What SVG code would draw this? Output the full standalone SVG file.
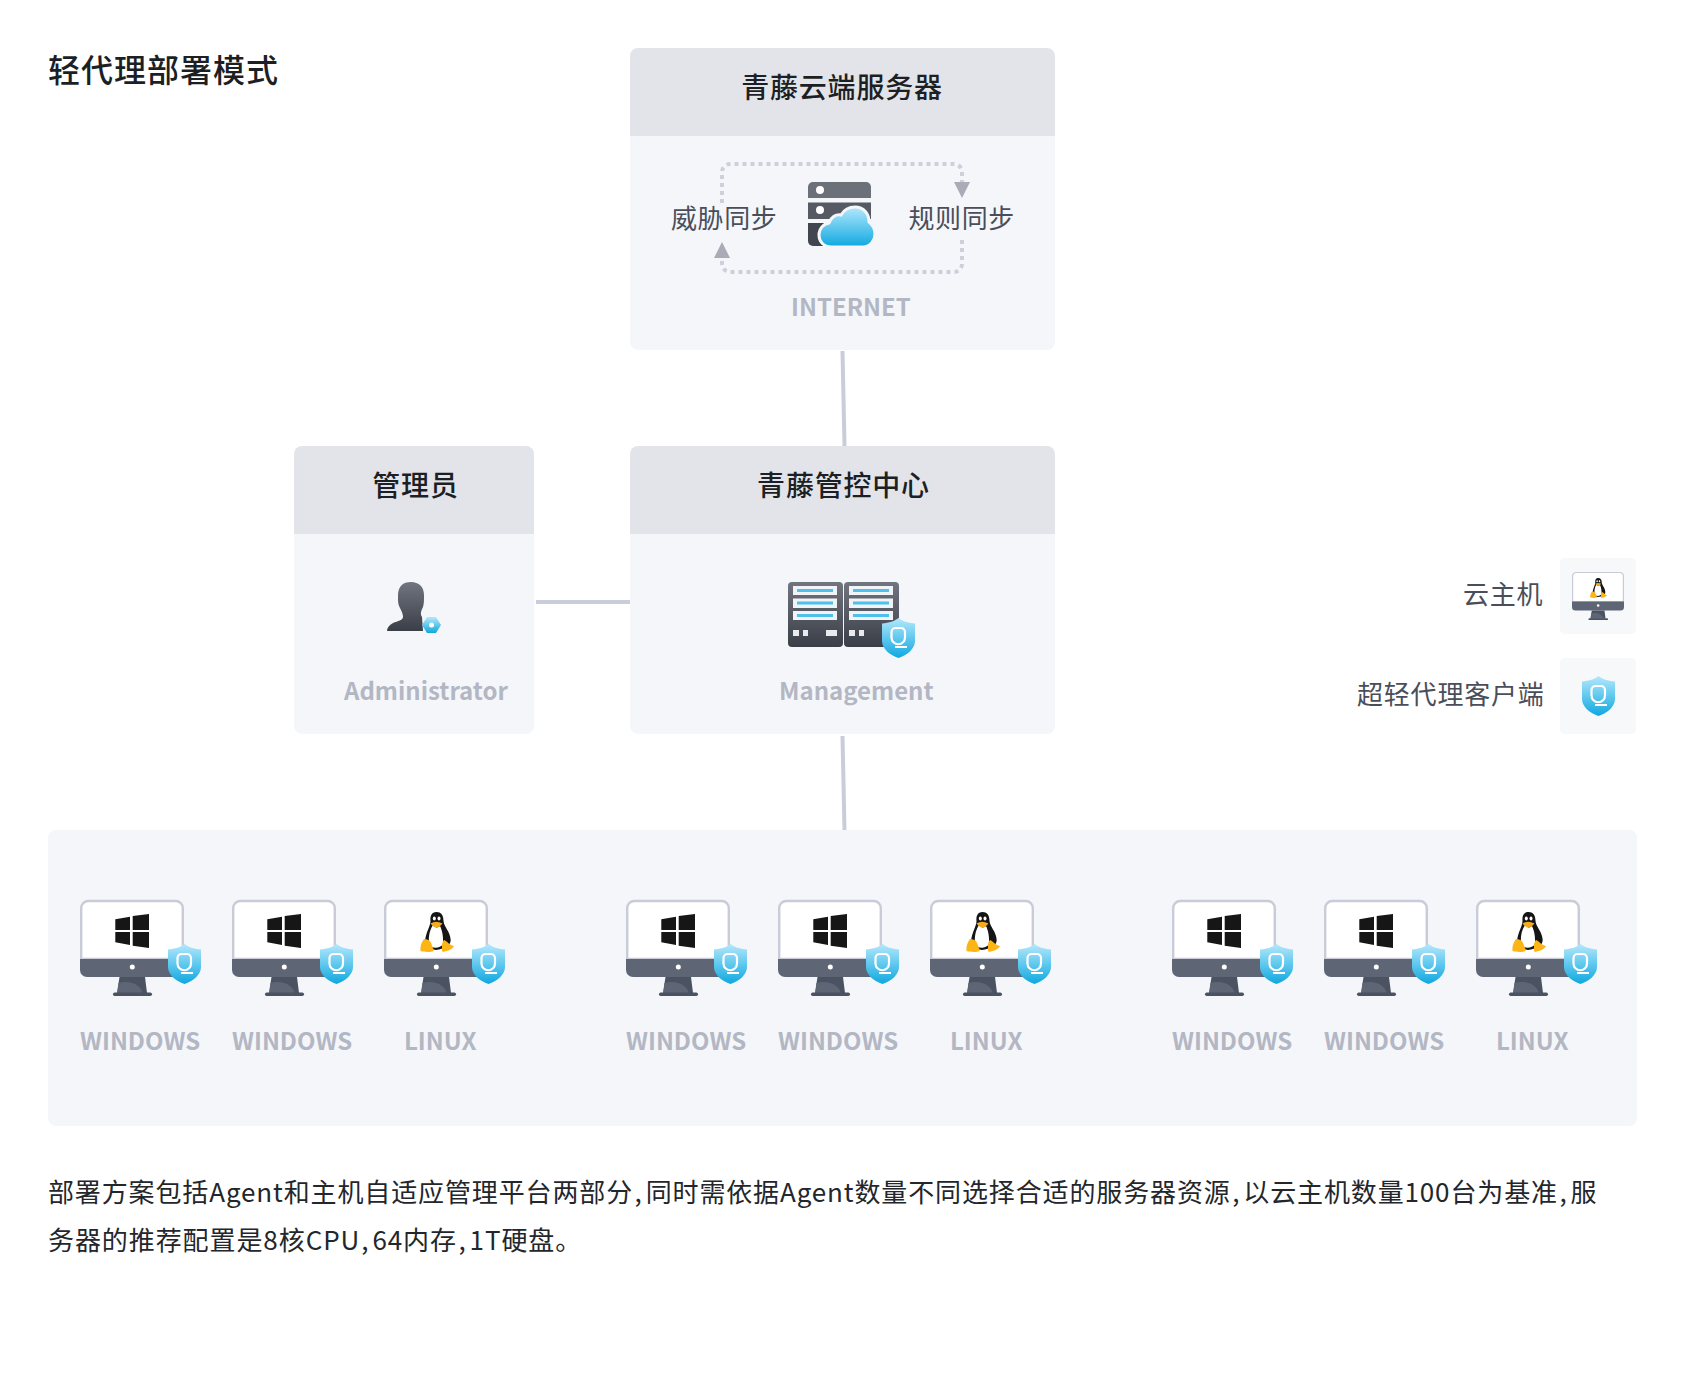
<svg xmlns="http://www.w3.org/2000/svg" width="1685" height="1389" viewBox="0 0 1685 1389">
<style>
text{font-family:"Noto Sans CJK SC","Noto Sans",sans-serif}
.body{fill:#f4f6fa}
.head{fill:#e3e4e9}
.title{font-size:28px;font-weight:500;fill:#1c1f24;text-anchor:middle;letter-spacing:.8px}
.cap{font-size:24px;font-weight:700;fill:#b3b7c3}
.lab{font-size:26px;fill:#4a4e5a}
.para{font-size:26px;fill:#23262b;letter-spacing:.92px}
.conn{stroke:#c9cdd9;stroke-width:4;fill:none}
.dot{stroke:#cdd0da;stroke-width:4;fill:none;stroke-dasharray:4 4}
.arr{fill:#a9acb7}
.slot{fill:#f1f3f6}
.bar{fill:#4fc0ec}
.sq{fill:#e8eaee}
</style>
<defs>
<linearGradient id="sg" x1="0" y1="0" x2="0" y2="1"><stop offset="0" stop-color="#b4e8fc"/><stop offset="1" stop-color="#0ea8e0"/></linearGradient>
<linearGradient id="dg" x1="0" y1="0" x2="0" y2="1"><stop offset="0" stop-color="#70757f"/><stop offset="1" stop-color="#393e47"/></linearGradient>
<g id="shield">
<path d="M16.5 0C20 3 26 5 33 5.500V23C33 31 25 37 16.500 40C8 37 0 31 0 23V5.500C7 5 13 3 16.500 0Z" fill="url(#sg)"/>
<path d="M9.500 14a4 4 0 0 1 4-4h5.500a4 4 0 0 1 4 4v5.500a6.700 6.700 0 0 1-13.500 0Z" fill="none" stroke="#fff" stroke-width="2.200"/>
<path d="M13 29H25" stroke="#fff" stroke-width="2" fill="none"/>
</g>
<g id="mon">
<path d="M1.200 59V8a7 7 0 0 1 7-7H95.800a7 7 0 0 1 7 7V59Z" fill="#fff" stroke="#c9ccd8" stroke-width="2.400"/>
<path d="M0 59H104V70a7 7 0 0 1-7 7H7a7 7 0 0 1-7-7Z" fill="#5e6575"/>
<circle cx="52.300" cy="67" r="2.500" fill="#fff"/>
<path d="M39.500 77H65L67 93H37Z" fill="#4b5261"/>
<path d="M37.500 91L38.500 83C48 80 60 83 63 93H37Z" fill="#5e6575"/>
<rect x="33" y="92.500" width="39" height="3.500" rx="1.700" fill="#4b5261"/>
</g>
<g id="win">
<path d="M35.300 19.300L50 16.700V30H35.300ZM52.700 16L69 14V30H52.700ZM35.300 32H50V45L35.300 42.300ZM52.700 32H69V48L52.700 45.700Z" fill="#161616"/>
</g>
<g id="tux">
<path d="M52.500 12C47.500 12 46 16 46.500 21C46.500 26 42 32 41 41C41 46 45 49 52 50C60 49 66.700 46 66.700 40C66 31 60 27 59.500 21C59.500 15 57 12 52.500 12Z" fill="#151515"/>
<path d="M49 25C45 31 44.500 38 45 44C47 49 56 49 59 44C59.500 36 58 30 56 26C54 28 51 28 49 25Z" fill="#fff"/>
<ellipse cx="50.300" cy="18.500" rx="1.500" ry="2" fill="#fff"/><ellipse cx="55" cy="18.500" rx="1.500" ry="2" fill="#fff"/>
<path d="M46.500 23.500Q52 20 58.500 23.500Q55 27.500 52.500 27.500Q49.500 27.500 46.500 23.500Z" fill="#f5ab1b"/>
<path d="M40 39C43 39 46 40 47 43C48 46 50 49 49.500 51C46 52.500 40 52 36.500 51C36 47 37 43 40 39Z" fill="#fdb515"/>
<path d="M60 40C63 41 65 45 70 46C69 49 64 51 59 52C57.500 51 58 49 58 47C58 44 58 42 60 40Z" fill="#fdb515"/>
</g>
</defs>
<rect width="1685" height="1389" fill="#fff"/>
<text x="48" y="82" font-size="32" font-weight="500" fill="#1c1f24" letter-spacing="1">轻代理部署模式</text>

<g id="connectors">
<path class="conn" d="M842.500 351L844.500 446"/>
<path class="conn" d="M536 602H630"/>
<path class="conn" d="M842.500 736L844.500 830"/>
</g>

<g id="cloud-server">
<path class="body" d="M630 130H1055V342a8 8 0 0 1-8 8H638a8 8 0 0 1-8-8Z"/>
<path class="head" d="M630 136V56a8 8 0 0 1 8-8H1047a8 8 0 0 1 8 8V136Z"/>
<text class="title" x="842" y="98">青藤云端服务器</text>
<path class="dot" d="M722 203V172a8 8 0 0 1 8-8H954a8 8 0 0 1 8 8V183"/>
<path class="dot" d="M962 240V264a8 8 0 0 1-8 8H730a8 8 0 0 1-8-8V258"/>
<path class="arr" d="M954 182H970L962 198Z"/>
<path class="arr" d="M714 258H730L722 242Z"/>
<text class="lab" x="671" y="228" letter-spacing=".6">威胁同步</text>
<text class="lab" x="908.500" y="228" letter-spacing=".6">规则同步</text>
<path d="M808 198V187a5 5 0 0 1 5-5H866a5 5 0 0 1 5 5V198Z" fill="#6b7079"/>
<path d="M808 202.500H871V219H808Z" fill="#555a63"/>
<path d="M808 223H840V246H813a5 5 0 0 1-5-5Z" fill="#41464e"/>
<circle cx="820" cy="190" r="4" fill="#fff"/><circle cx="820" cy="210" r="4" fill="#fff"/>
<path d="M832 247C823 247 819 241 819 235C819 229 823 224 829 223C831 217 836 214 841 215C844 210 849 207 855 207C864 207 869 214 869 222C873 225 875 230 875 234C875 241 870 247 863 247Z" fill="url(#sg)" stroke="#f4f6fa" stroke-width="3"/>
<text class="cap" x="791" y="316">INTERNET</text>
</g>

<g id="admin">
<path class="body" d="M294 530H534V726a8 8 0 0 1-8 8H302a8 8 0 0 1-8-8Z"/>
<path class="head" d="M294 534V454a8 8 0 0 1 8-8H526a8 8 0 0 1 8 8V534Z"/>
<text class="title" x="415.500" y="496">管理员</text>
<path d="M411 582C403 582 398 586 398 596C398 602 398 604 400 608C402 612 403 614 403 617C403 620 398 621 393 623C389 625 387 628 387 631H423L422 617C420 614 421 611 423 607C424 604 424 600 424 595C424 587 419 582 411 582Z" fill="url(#dg)"/>
<path d="M427 617H436L441 625L436 633H427L422 625Z" fill="url(#sg)"/>
<circle cx="431.500" cy="625" r="2.500" fill="#fff"/>
<text class="cap" x="344" y="700">Administrator</text>
</g>

<g id="management">
<path class="body" d="M630 530H1055V726a8 8 0 0 1-8 8H638a8 8 0 0 1-8-8Z"/>
<path class="head" d="M630 534V454a8 8 0 0 1 8-8H1047a8 8 0 0 1 8 8V534Z"/>
<text class="title" x="843.500" y="496">青藤管控中心</text>
<g id="rack">
<rect x="788" y="582" width="55" height="65" rx="4" fill="url(#dg)"/>
<rect class="slot" x="793" y="586" width="44" height="9"/><rect class="slot" x="793" y="598.500" width="44" height="9.500"/><rect class="slot" x="793" y="611" width="44" height="9"/>
<rect class="bar" x="797" y="589" width="36" height="3"/><rect class="bar" x="797" y="601.500" width="36" height="3"/><rect class="bar" x="797" y="614" width="36" height="3"/>
<rect class="sq" x="793" y="630" width="6" height="6"/><rect class="sq" x="803" y="630" width="5" height="6"/><rect class="sq" x="826" y="630" width="11" height="6"/>
</g>
<g>
<rect x="844" y="582" width="55" height="65" rx="4" fill="url(#dg)"/>
<rect class="slot" x="849" y="586" width="44" height="9"/><rect class="slot" x="849" y="598.500" width="44" height="9.500"/><rect class="slot" x="849" y="611" width="44" height="9"/>
<rect class="bar" x="853" y="589" width="36" height="3"/><rect class="bar" x="853" y="601.500" width="36" height="3"/><rect class="bar" x="853" y="614" width="36" height="3"/>
<rect class="sq" x="849" y="630" width="6" height="6"/><rect class="sq" x="859" y="630" width="5" height="6"/>
</g>
<use href="#shield" x="882" y="618"/>
<text class="cap" x="779" y="700">Management</text>
</g>

<g id="legend-host">
<rect x="1560" y="558" width="76" height="76" rx="5" fill="#f7f8fa"/>
<g transform="translate(1572 572) scale(.5)"><use href="#mon"/><use href="#tux"/></g>
<text class="lab" x="1463" y="604" letter-spacing=".7">云主机</text>
</g>
<g id="legend-agent">
<rect x="1560" y="658" width="76" height="76" rx="5" fill="#f7f8fa"/>
<use href="#shield" x="1582" y="676"/>
<text class="lab" x="1357" y="704" letter-spacing=".8">超轻代理客户端</text>
</g>

<g id="hosts-panel">
<rect class="body" x="48" y="830" width="1589" height="296" rx="8"/>
</g>

<g id="host-1" transform="translate(80 900)"><use href="#mon"/><use href="#win"/><use href="#shield" x="88" y="44"/><text class="cap" x="0" y="150">WINDOWS</text></g>
<g id="host-2" transform="translate(232 900)"><use href="#mon"/><use href="#win"/><use href="#shield" x="88" y="44"/><text class="cap" x="0" y="150">WINDOWS</text></g>
<g id="host-3" transform="translate(384 900)"><use href="#mon"/><use href="#tux"/><use href="#shield" x="88" y="44"/><text class="cap" x="20" y="150">LINUX</text></g>
<g id="host-4" transform="translate(626 900)"><use href="#mon"/><use href="#win"/><use href="#shield" x="88" y="44"/><text class="cap" x="0" y="150">WINDOWS</text></g>
<g id="host-5" transform="translate(778 900)"><use href="#mon"/><use href="#win"/><use href="#shield" x="88" y="44"/><text class="cap" x="0" y="150">WINDOWS</text></g>
<g id="host-6" transform="translate(930 900)"><use href="#mon"/><use href="#tux"/><use href="#shield" x="88" y="44"/><text class="cap" x="20" y="150">LINUX</text></g>
<g id="host-7" transform="translate(1172 900)"><use href="#mon"/><use href="#win"/><use href="#shield" x="88" y="44"/><text class="cap" x="0" y="150">WINDOWS</text></g>
<g id="host-8" transform="translate(1324 900)"><use href="#mon"/><use href="#win"/><use href="#shield" x="88" y="44"/><text class="cap" x="0" y="150">WINDOWS</text></g>
<g id="host-9" transform="translate(1476 900)"><use href="#mon"/><use href="#tux"/><use href="#shield" x="88" y="44"/><text class="cap" x="20" y="150">LINUX</text></g>

<text class="para" x="48" y="1202" style="letter-spacing:.87px">部署方案包括Agent和主机自适应管理平台两部分<tspan dx="1.5">,</tspan><tspan dx="3">同时需依据Agent数量不同选择合适的服务器资源</tspan><tspan dx="1.5">,</tspan><tspan dx="3">以云主机数量100台为基准</tspan><tspan dx="1.5">,</tspan><tspan dx="3">服</tspan></text>
<text class="para" x="48" y="1250">务器的推荐配置是8核CPU<tspan dx="1.5">,</tspan><tspan dx="3">64内存</tspan><tspan dx="1.5">,</tspan><tspan dx="3">1T硬盘。</tspan></text>
</svg>
